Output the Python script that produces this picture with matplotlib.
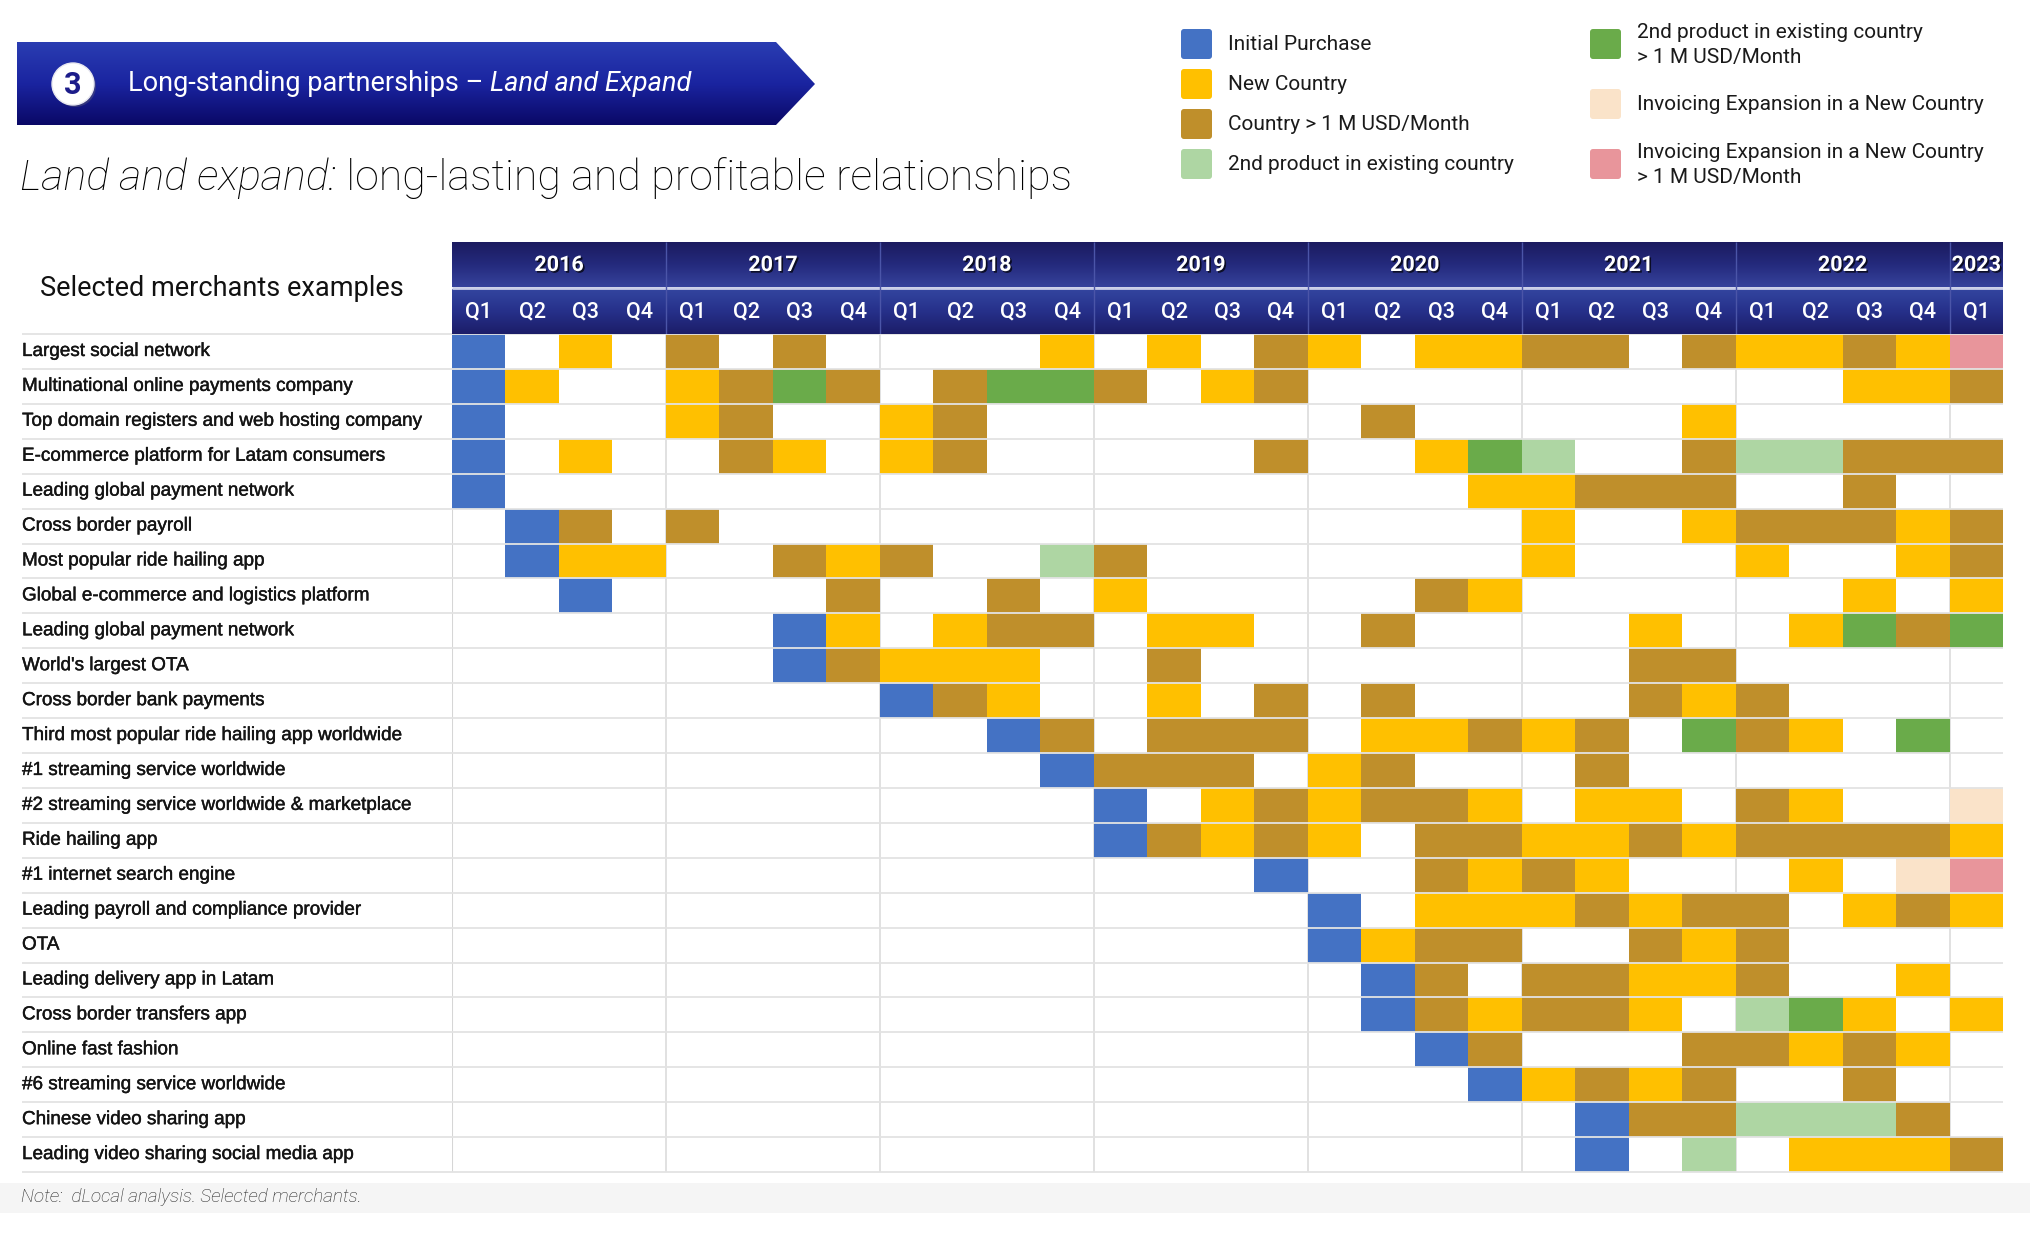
import matplotlib
matplotlib.use("Agg")
import matplotlib.pyplot as plt
import matplotlib.patheffects as pe
from matplotlib.colors import ListedColormap, LinearSegmentedColormap, BoundaryNorm
from matplotlib.patches import Polygon, Circle, FancyBboxPatch
import numpy as np

plt.rcParams['font.family'] = ['Roboto', 'DejaVu Sans']

# ---- data ----
years = ['2016', '2017', '2018', '2019', '2020', '2021', '2022', '2023']
quarters_per_year = [4, 4, 4, 4, 4, 4, 4, 1]

status_labels = ['Initial Purchase', 'New Country', 'Country > 1 M USD/Month',
                 '2nd product in existing country',
                 '2nd product in existing country\n> 1 M USD/Month',
                 'Invoicing Expansion in a New Country',
                 'Invoicing Expansion in a New Country\n> 1 M USD/Month']
status_colors = ['#4472c4', '#ffc000', '#bf8f2b', '#aed6a3', '#6aab4a', '#fae3c9', '#e8959b']

merchants = ['Largest social network',
             'Multinational online payments company',
             'Top domain registers and web hosting company',
             'E-commerce platform for Latam consumers',
             'Leading global payment network',
             'Cross border payroll',
             'Most popular ride hailing app',
             'Global e-commerce and logistics platform',
             'Leading global payment network',
             "World's largest OTA",
             'Cross border bank payments',
             'Third most popular ride hailing app worldwide',
             '#1 streaming service worldwide',
             '#2 streaming service worldwide & marketplace',
             'Ride hailing app',
             '#1 internet search engine',
             'Leading payroll and compliance provider',
             'OTA',
             'Leading delivery app in Latam',
             'Cross border transfers app',
             'Online fast fashion',
             '#6 streaming service worldwide',
             'Chinese video sharing app',
             'Leading video sharing social media app']

# 0 none, 1 initial, 2 new country, 3 country >1M, 4 2nd product, 5 2nd product >1M,
# 6 invoicing, 7 invoicing >1M ; columns 2016Q1 .. 2023Q1
status = [
    [1,0,2,0, 3,0,3,0, 0,0,0,2, 0,2,0,3, 2,0,2,2, 3,3,0,3, 2,2,3,2, 7],
    [1,2,0,0, 2,3,5,3, 0,3,5,5, 3,0,2,3, 0,0,0,0, 0,0,0,0, 0,0,2,2, 3],
    [1,0,0,0, 2,3,0,0, 2,3,0,0, 0,0,0,0, 0,3,0,0, 0,0,0,2, 0,0,0,0, 0],
    [1,0,2,0, 0,3,2,0, 2,3,0,0, 0,0,0,3, 0,0,2,5, 4,0,0,3, 4,4,3,3, 3],
    [1,0,0,0, 0,0,0,0, 0,0,0,0, 0,0,0,0, 0,0,0,2, 2,3,3,3, 0,0,3,0, 0],
    [0,1,3,0, 3,0,0,0, 0,0,0,0, 0,0,0,0, 0,0,0,0, 2,0,0,2, 3,3,3,2, 3],
    [0,1,2,2, 0,0,3,2, 3,0,0,4, 3,0,0,0, 0,0,0,0, 2,0,0,0, 2,0,0,2, 3],
    [0,0,1,0, 0,0,0,3, 0,0,3,0, 2,0,0,0, 0,0,3,2, 0,0,0,0, 0,0,2,0, 2],
    [0,0,0,0, 0,0,1,2, 0,2,3,3, 0,2,2,0, 0,3,0,0, 0,0,2,0, 0,2,5,3, 5],
    [0,0,0,0, 0,0,1,3, 2,2,2,0, 0,3,0,0, 0,0,0,0, 0,0,3,3, 0,0,0,0, 0],
    [0,0,0,0, 0,0,0,0, 1,3,2,0, 0,2,0,3, 0,3,0,0, 0,0,3,2, 3,0,0,0, 0],
    [0,0,0,0, 0,0,0,0, 0,0,1,3, 0,3,3,3, 0,2,2,3, 2,3,0,5, 3,2,0,5, 0],
    [0,0,0,0, 0,0,0,0, 0,0,0,1, 3,3,3,0, 2,3,0,0, 0,3,0,0, 0,0,0,0, 0],
    [0,0,0,0, 0,0,0,0, 0,0,0,0, 1,0,2,3, 2,3,3,2, 0,2,2,0, 3,2,0,0, 6],
    [0,0,0,0, 0,0,0,0, 0,0,0,0, 1,3,2,3, 2,0,3,3, 2,2,3,2, 3,3,3,3, 2],
    [0,0,0,0, 0,0,0,0, 0,0,0,0, 0,0,0,1, 0,0,3,2, 3,2,0,0, 0,2,0,6, 7],
    [0,0,0,0, 0,0,0,0, 0,0,0,0, 0,0,0,0, 1,0,2,2, 2,3,2,3, 3,0,2,3, 2],
    [0,0,0,0, 0,0,0,0, 0,0,0,0, 0,0,0,0, 1,2,3,3, 0,0,3,2, 3,0,0,0, 0],
    [0,0,0,0, 0,0,0,0, 0,0,0,0, 0,0,0,0, 0,1,3,0, 3,3,2,2, 3,0,0,2, 0],
    [0,0,0,0, 0,0,0,0, 0,0,0,0, 0,0,0,0, 0,1,3,2, 3,3,2,0, 4,5,2,0, 2],
    [0,0,0,0, 0,0,0,0, 0,0,0,0, 0,0,0,0, 0,0,1,3, 0,0,0,3, 3,2,3,2, 0],
    [0,0,0,0, 0,0,0,0, 0,0,0,0, 0,0,0,0, 0,0,0,1, 2,3,2,3, 0,0,3,0, 0],
    [0,0,0,0, 0,0,0,0, 0,0,0,0, 0,0,0,0, 0,0,0,0, 0,1,3,3, 4,4,4,3, 0],
    [0,0,0,0, 0,0,0,0, 0,0,0,0, 0,0,0,0, 0,0,0,0, 0,1,0,4, 0,2,2,2, 3],
]

W, H = 2030, 1254
fig = plt.figure(figsize=(W / 100, H / 100), dpi=100)
fig.patch.set_facecolor('white')

def fx(px):
    return px / W

def fy(py):
    return 1 - py / H

# overlay axes in pixel units for decorations
deco = fig.add_axes([0, 0, 1, 1], zorder=0)
deco.set_xlim(0, W)
deco.set_ylim(H, 0)
deco.axis('off')

# ---- banner ----
banner = Polygon([(17, 42), (776, 42), (815, 84), (776, 125), (17, 125)], closed=True,
                 facecolor='none', edgecolor='none')
deco.add_patch(banner)
grad = np.linspace(0, 1, 200).reshape(-1, 1)
bcmap = LinearSegmentedColormap.from_list('b', ['#2a3db2', '#1a24a0', '#0a0866'])
im = deco.imshow(grad, cmap=bcmap, extent=(17, 815, 125, 42), aspect='auto', zorder=1)
im.set_clip_path(banner)
deco.add_patch(Circle((75, 86), 21, facecolor='#555577', edgecolor='none', alpha=0.5, zorder=2))
deco.add_patch(Circle((73, 84), 21, facecolor='white', edgecolor='#e8e8f0', lw=1, zorder=3))
deco.text(73, 85, '3', ha='center', va='center', fontsize=22, fontweight='bold',
          color='#1c1c8a', zorder=4)
t1 = deco.text(128, 91, 'Long-standing partnerships \u2013 ', fontsize=19.5, color='white',
               va='baseline', ha='left', zorder=4)
deco.annotate('Land and Expand', xy=(1, 0), xycoords=t1, fontsize=19.5, color='white',
              style='italic', va='bottom', ha='left', zorder=4)

# ---- subtitle ----
s1 = deco.text(20, 190, 'Land and expand:', fontsize=31, style='italic', fontweight='light',
               color='#000000', va='baseline', ha='left')
deco.annotate(' long-lasting and profitable relationships', xy=(1, 0), xycoords=s1,
              fontsize=31, fontweight='light', color='#000000', va='bottom', ha='left')

deco.text(222, 289, 'Selected merchants examples', fontsize=19.5, color='#111111',
          ha='center', va='center')

# ---- legend ----
legend_pos = [(1181, 44), (1181, 84), (1181, 124), (1181, 164),
              (1590, 44), (1590, 104), (1590, 164)]
for (lx, ly), lab, col in zip(legend_pos, status_labels, status_colors):
    deco.add_patch(FancyBboxPatch((lx + 3, ly - 12), 25, 24,
                                  boxstyle='round,pad=3', facecolor=col, edgecolor='none'))
    deco.text(lx + 47, ly + 1, lab, fontsize=15, color='#1a1a1a', va='center', ha='left',
              linespacing=1.45)

# ---- note band ----
deco.add_patch(plt.Rectangle((0, 1183), W, 30, facecolor='#f5f5f5', edgecolor='none'))
deco.text(21, 1197, 'Note:  dLocal analysis. Selected merchants.', fontsize=13.6,
          style='italic', fontweight='light', color='#222222', va='center', ha='left')

# ---- grid ----
n_rows = len(merchants)
n_cols = sum(quarters_per_year)
gl, gr, gt, gb = 452, 2003, 334, 1172
ax = fig.add_axes([fx(gl), fy(gb), fx(gr - gl), fy(gt) - fy(gb)], zorder=2)
ax.set_xlim(0, n_cols)
ax.set_ylim(n_rows, 0)
ax.axis('off')

year_edges = np.cumsum([0] + quarters_per_year)
ax.vlines(year_edges[1:-1], 0, n_rows, color='#dcdcdc', lw=1.2, zorder=1)
ax.vlines([0], 0, n_rows, color='#d6d6d6', lw=1.5, zorder=1)

cmap = ListedColormap(['#ffffff'] + status_colors)
norm = BoundaryNorm(np.arange(-0.5, len(status_colors) + 1, 1), cmap.N)
data = np.ma.masked_equal(np.array(status), 0)
ax.pcolormesh(np.arange(n_cols + 1), np.arange(n_rows + 1), data, cmap=cmap, norm=norm,
              edgecolor='none', zorder=2)

# row separator lines, extending under labels
label_x0 = -(gl - 22) / ((gr - gl) / n_cols)
ax.hlines(np.arange(n_rows + 1), label_x0, n_cols, color='#e3e3e3', lw=1.3,
          zorder=3, clip_on=False)

thick = [pe.withStroke(linewidth=0.3, foreground='#141414')]
for i, name in enumerate(merchants):
    ax.text(label_x0, i + 0.5, name, fontsize=13.6, family=['Liberation Sans', 'DejaVu Sans'],
            color='#141414', va='center', ha='left', clip_on=False, path_effects=thick)

# ---- header ----
hax = fig.add_axes([fx(gl), fy(gt), fx(gr - gl), fy(242) - fy(gt)], zorder=2)
hax.set_xlim(0, n_cols)
hax.set_ylim(2, 0)
hax.axis('off')
ycmap = LinearSegmentedColormap.from_list('y', ['#1b1a5e', '#242a7c', '#36429c'])
qcmap = LinearSegmentedColormap.from_list('q', ['#33459f', '#26308a', '#1c1d68'])
hax.imshow(grad, cmap=ycmap, extent=(0, n_cols, 0.985, 0), aspect='auto', zorder=1)
hax.imshow(grad, cmap=qcmap, extent=(0, n_cols, 2, 1.03), aspect='auto', zorder=1)
hax.hlines(1.0075, 0, n_cols, color='#c9cde8', lw=2, zorder=2)
hax.vlines(year_edges[1:-1], 0, 2, color='#4b55a8', lw=1, zorder=2)

shadow = [pe.withSimplePatchShadow(offset=(1.2, -1.2), shadow_rgbFace='black', alpha=0.7)]
for k, yr in enumerate(years):
    xc = (year_edges[k] + year_edges[k + 1]) / 2
    hax.text(xc, 0.5, yr, fontsize=15.5, fontweight='bold', color='white', ha='center',
             va='center', path_effects=shadow, zorder=3)
    for q in range(quarters_per_year[k]):
        hax.text(year_edges[k] + q + 0.5, 1.52, 'Q%d' % (q + 1), fontsize=15.5,
                 fontweight='medium', color='white', ha='center', va='center', zorder=3)

fig.savefig('out.png', dpi=100, facecolor='white')
